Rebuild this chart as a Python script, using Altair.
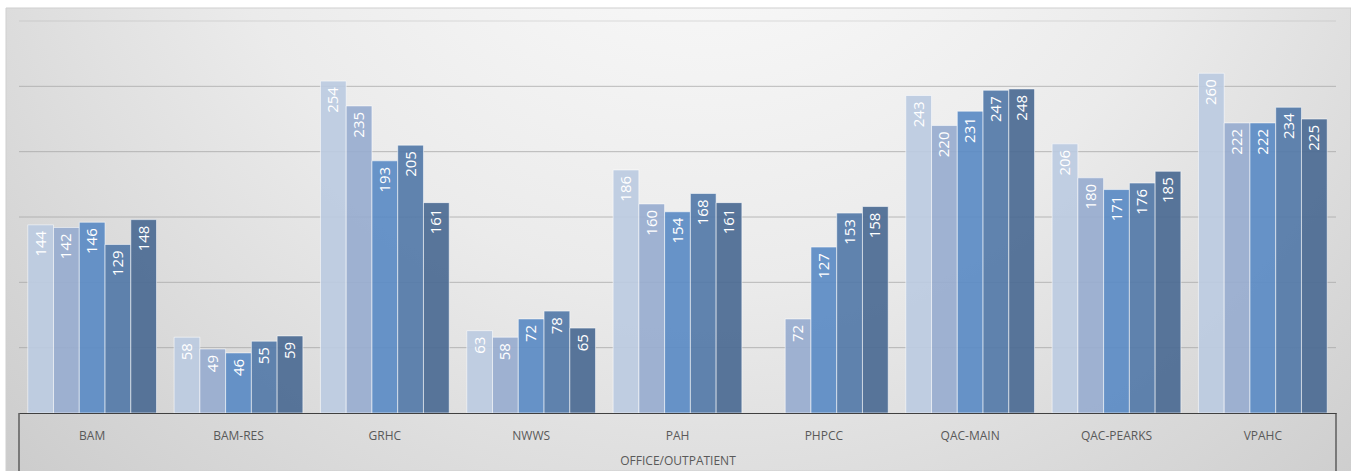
import altair as alt
import pandas as pd

categories = ["BAM", "BAM-RES", "GRHC", "NWWS", "PAH", "PHPCC", "QAC-MAIN", "QAC-PEARKS", "VPAHC"]
series = ["Series 1", "Series 2", "Series 3", "Series 4", "Series 5"]
values_s1 = [144, 58, 254, 63, 186, None, 243, 206, 260]
values_s2 = [142, 49, 235, 58, 160, 72, 220, 180, 222]
values_s3 = [146, 46, 193, 72, 154, 127, 231, 171, 222]
values_s4 = [129, 55, 205, 78, 168, 153, 247, 176, 234]
values_s5 = [148, 59, 161, 65, 161, 158, 248, 185, 225]
colors = ["#bccbe1", "#98adcf", "#5b8bc4", "#5479a8", "#4b6a93"]
grid_values = [50, 100, 150, 200, 250, 300]
grid_opacity = [0.75, 0.75, 0.75, 0.75, 0.75, 0.35]
group_title = "OFFICE/OUTPATIENT"

rows = []
for s, vals in zip(series, [values_s1, values_s2, values_s3, values_s4, values_s5]):
    for c, v in zip(categories, vals):
        if v is not None:
            rows.append({"category": c, "series": s, "value": v})
df = pd.DataFrame(rows)

W, H = 1317, 392

xenc = alt.X("category:N", sort=categories,
             scale=alt.Scale(domain=categories, paddingInner=0.12, paddingOuter=0.06),
             axis=alt.Axis(title=group_title, labelAngle=0, ticks=False, grid=False,
                           domainColor="#404040", domainWidth=1.2,
                           labelFont="Open Sans", labelFontSize=12, labelColor="#595959",
                           labelPadding=17,
                           titleFont="Open Sans", titleFontSize=12, titleFontWeight="normal",
                           titleColor="#595959", titlePadding=14, zindex=1))
xoff = alt.XOffset("series:N", sort=series, scale=alt.Scale(domain=series, paddingInner=0, paddingOuter=0))
yscale = alt.Scale(domain=[0, 300], nice=False)
yenc = alt.Y("value:Q", scale=yscale, axis=None)

bg = alt.Chart(pd.DataFrame({"a": [0]})).mark_rect(
    fill={"gradient": "radial",
          "stops": [{"offset": 0, "color": "#ffffff"},
                    {"offset": 0.45, "color": "#ebebeb"},
                    {"offset": 1, "color": "#c2c2c2"}],
          "x1": 0.52, "y1": 0.15, "r1": 0, "x2": 0.52, "y2": 0.15, "r2": 0.85},
    stroke="#cfcfcf", strokeWidth=1
).encode(x=alt.value(-13), x2=alt.value(W + 15), y=alt.value(-13), y2=alt.value(H + 58))

grid = alt.Chart(pd.DataFrame({"g": grid_values, "o": grid_opacity})).mark_rule(
    color="#a6a6a6", strokeWidth=1
).encode(y=alt.Y("g:Q", scale=yscale, axis=None), x=alt.value(0), x2=alt.value(W),
         opacity=alt.Opacity("o:Q", scale=None, legend=None))

bars = alt.Chart(df).mark_bar(
    fillOpacity=0.92, stroke="#ffffff", strokeWidth=1, strokeOpacity=0.55
).encode(
    x=xenc, xOffset=xoff, y=yenc,
    color=alt.Color("series:N", scale=alt.Scale(domain=series, range=colors), legend=None),
)

labels = alt.Chart(df).mark_text(
    angle=270, align="right", baseline="middle", dx=-6, color="#ffffff",
    font="Open Sans", fontSize=15
).encode(x=xenc, xOffset=xoff, y=yenc, text=alt.Text("value:Q"))

one = pd.DataFrame({"a": [0]})
side_left = alt.Chart(one).mark_rule(color="#404040", strokeWidth=1.2).encode(
    x=alt.value(0), y=alt.value(H), y2=alt.value(H + 58))
side_right = alt.Chart(one).mark_rule(color="#404040", strokeWidth=1.2).encode(
    x=alt.value(W), y=alt.value(H), y2=alt.value(H + 58))

chart = alt.layer(bg, grid, bars, labels, side_left, side_right).properties(
    width=W, height=H,
    padding={"left": 19, "top": 21, "right": 15, "bottom": 58},
    autosize=alt.AutoSizeParams(type="none"),
).configure_view(stroke=None)

chart.save("out.html", embed_options={"renderer": "svg", "actions": False})
